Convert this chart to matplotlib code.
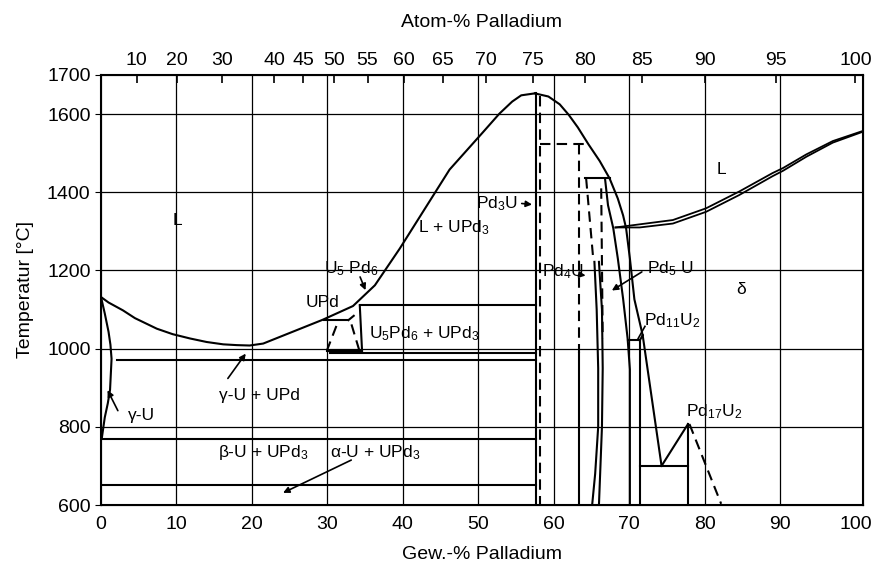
import matplotlib.pyplot as plt

plt.rcParams['font.family'] = ['Liberation Sans', 'DejaVu Sans']
plt.rcParams['mathtext.fontset'] = 'custom'
plt.rcParams['mathtext.rm'] = 'Liberation Sans'
plt.rcParams['mathtext.it'] = 'Liberation Sans:italic'
plt.rcParams['mathtext.bf'] = 'Liberation Sans:bold'

# liquidus, U side up to the Pd3U maximum (wt.-% Pd, deg C)
liq_u_wt = [0, 1.0, 2.9, 4.5, 7.4, 9.5, 11.8, 14.0, 16.2, 18.0, 19.7, 21.5, 29.4, 33.4, 36.3,
            39.6, 46.2, 50.6, 52.8, 54.5, 55.7, 57.5]
liq_u_t = [1132, 1118, 1098, 1078, 1051, 1037, 1026, 1017, 1011, 1009, 1008, 1013, 1074, 1109, 1162,
           1256, 1458, 1553, 1601, 1632, 1648, 1653]
# liquidus falling from the maximum down to Pd11U2
liq_pd_wt = [57.5, 59.3, 60.8, 62.0, 63.2, 64.6, 66.1, 67.4, 68.5, 69.2, 69.6, 70.1, 70.7, 71.8]
liq_pd_t = [1653, 1645, 1625, 1598, 1566, 1523, 1480, 1436, 1384, 1341, 1308, 1231, 1126, 1034]
# delta (Pd) liquidus and solidus
delta_wt = [68.2, 71.4, 75.8, 80.2, 84.6, 89.0, 90.4, 93.5, 97.0, 101]
delta_liq_t = [1310, 1318, 1329, 1359, 1402, 1449, 1462, 1497, 1531, 1557]
delta_sol_t = [1310, 1310, 1320, 1350, 1393, 1441, 1455, 1491, 1527, 1555]
# gamma-U solvus
gu_wt = [0, 0.5, 1.0, 1.25, 1.4, 1.2, 0.9, 0.5, 0.1]
gu_t = [1132, 1090, 1043, 1010, 974, 895, 860, 824, 770]
# Pd5U boundaries
pd5u_a_wt = [66.8, 67.2, 67.9, 68.5, 69.2, 69.8, 70.1, 70.1]
pd5u_a_t = [1436, 1367, 1308, 1231, 1128, 1026, 947, 600]
pd5u_b_wt = [65.4, 65.7, 65.9, 65.9, 65.5, 65.1]
pd5u_b_t = [1222, 1100, 950, 800, 680, 600]
pd5u_c_wt = [66.0, 66.4, 66.5, 66.4, 66.0]
pd5u_c_t = [1222, 1100, 950, 800, 600]

# solid straight segments: (wt1, wt2, T1, T2)
solid_segs = [
    (57.6, 57.6, 1653, 600),    # Pd3U
    (34.3, 57.6, 1111, 1111),
    (30.3, 57.6, 988, 988),
    (2.1, 57.6, 970, 970),
    (0, 57.6, 770, 770),
    (0, 57.6, 650, 650),
    (29.6, 32.8, 1073, 1073),   # UPd
    (32.8, 33.5, 1073, 1084),
    (34.3, 34.6, 1111, 995),    # U5Pd6
    (30.0, 34.6, 995, 995),
    (63.4, 63.4, 990, 600),     # Pd4U
    (64.1, 67.4, 1436, 1436),   # Pd5U top
    (69.8, 71.4, 1021, 1021),   # Pd11U2
    (71.4, 71.8, 1021, 1034),
    (71.4, 71.4, 1021, 600),
    (71.8, 74.3, 1034, 700),
    (71.4, 77.8, 700, 700),
    (74.3, 77.8, 700, 807),     # Pd17U2
    (77.8, 77.8, 807, 600),
]
dashed_segs = [
    (58.2, 58.2, 1645, 600),
    (58.2, 64.5, 1523, 1523),
    (63.4, 63.4, 1523, 990),
    (64.3, 65.2, 1436, 1239),
    (66.3, 66.5, 1410, 1026),
    (33.2, 34.2, 1062, 998),
    (31.2, 30.0, 1058, 998),
    (78.0, 82.2, 807, 603),
]

fig = plt.figure(figsize=(8.79, 5.75), dpi=100)
ax = fig.add_axes([101 / 879, 70 / 575, 762 / 879, 430 / 575])
ax.set_xlim(0, 101)
ax.set_ylim(600, 1700)

lw = 1.5
for x in range(10, 100, 10):
    ax.axvline(x, color='black', lw=0.9, zorder=1)
for t in [800, 1000, 1200, 1400, 1600]:
    ax.axhline(t, color='black', lw=0.9, zorder=1)

ax.plot(liq_u_wt, liq_u_t, color='black', lw=lw)
ax.plot(liq_pd_wt, liq_pd_t, color='black', lw=lw)
ax.plot(delta_wt, delta_liq_t, color='black', lw=1.3)
ax.plot(delta_wt, delta_sol_t, color='black', lw=1.3)
ax.plot(gu_wt, gu_t, color='black', lw=lw)
ax.plot(pd5u_a_wt, pd5u_a_t, color='black', lw=lw)
ax.plot(pd5u_b_wt, pd5u_b_t, color='black', lw=lw)
ax.plot(pd5u_c_wt, pd5u_c_t, color='black', lw=lw)
for x1, x2, t1, t2 in solid_segs:
    ax.plot([x1, x2], [t1, t2], color='black', lw=lw)
for x1, x2, t1, t2 in dashed_segs:
    ax.plot([x1, x2], [t1, t2], color='black', lw=lw, ls=(0, (5, 3)))

fs = 12.5
txt = dict(fontsize=fs, ha='center', va='center')
ax.text(10.1, 1328, 'L', **txt)
ax.text(82.3, 1457, 'L', **txt)
ax.text(84.8, 1150, 'δ', **txt)
ax.text(46.8, 1310, 'L + UPd$_3$', **txt)
ax.text(33.1, 1205, 'U$_5$ Pd$_6$', **txt)
ax.text(29.3, 1118, 'UPd', **txt)
ax.text(42.8, 1038, 'U$_5$Pd$_6$ + UPd$_3$', **txt)
ax.text(21.0, 880, 'γ-U + UPd', **txt)
ax.text(5.4, 830, 'γ-U', **txt)
ax.text(21.5, 735, 'β-U + UPd$_3$', **txt)
ax.text(36.3, 735, 'α-U + UPd$_3$', **txt)
ax.text(55.2, 1372, 'Pd$_3$U', fontsize=fs, ha='right', va='center')
ax.text(58.5, 1198, 'Pd$_4$U', fontsize=fs, ha='left', va='center')
ax.text(72.4, 1205, 'Pd$_5$ U', fontsize=fs, ha='left', va='center')
ax.text(72.0, 1072, 'Pd$_{11}$U$_2$', fontsize=fs, ha='left', va='center')
ax.text(77.6, 840, 'Pd$_{17}$U$_2$', fontsize=fs, ha='left', va='center')

arr = dict(arrowstyle='-|>', color='black', lw=1.2, mutation_scale=9)
arrows = [
    ((55.4, 1372), (57.5, 1368)),
    ((63.2, 1190), (64.6, 1186)),
    ((72.0, 1200), (67.4, 1145)),
    ((16.6, 918), (19.4, 993)),
    ((33.5, 718), (23.8, 628)),
    ((2.4, 835), (0.7, 900)),
    ((34.2, 1190), (35.2, 1143)),
]
for start, end in arrows:
    ax.annotate('', xy=end, xytext=start, arrowprops=arr)
ax.plot([72.1, 71.2], [1057, 1026], color='black', lw=1.2)

ax.set_xticks(range(0, 101, 10))
ax.set_yticks([600, 800, 1000, 1200, 1400, 1600, 1700])
ax.tick_params(axis='x', length=0, pad=8, labelsize=14)
ax.tick_params(axis='y', length=4, labelsize=14)
for s in ax.spines.values():
    s.set_linewidth(1.5)
ax.set_xlabel('Gew.-% Palladium', fontsize=14, labelpad=9)
ax.set_ylabel('Temperatur [°C]', fontsize=14, labelpad=9)

# top axis in atom-% Pd
M_PD, M_U = 106.42, 238.03
at_ticks = [10, 20, 30, 40, 45, 50, 55, 60, 65, 70, 75, 80, 85, 90, 95, 100]
at_pos = [100 * a * M_PD / (a * M_PD + (100 - a) * M_U) for a in at_ticks]
ax2 = ax.twiny()
ax2.set_xlim(ax.get_xlim())
ax2.set_xticks(at_pos)
ax2.set_xticklabels([str(a) for a in at_ticks])
ax2.tick_params(axis='x', direction='in', length=6, width=1.2, labelsize=14, pad=4)
ax2.set_xlabel('Atom-% Palladium', fontsize=14, labelpad=18)

fig.savefig('out.png', dpi=100)
